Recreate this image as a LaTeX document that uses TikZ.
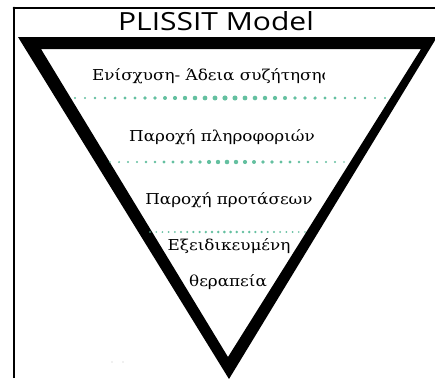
\documentclass[tikz,border=0pt]{standalone}
\usepackage{fontspec}
\setmainfont{DejaVu Serif}[FakeStretch=1.12]
\newfontfamily\titlefont{Open Sans}[FakeStretch=1.2]
\definecolor{mint}{RGB}{100,192,160}
\tikzset{
  grtext/.style={font=\fontsize{15}{17}\selectfont, inner sep=0pt, anchor=center},
  frameline/.style={line width=1.3pt, black},
}
\begin{document}
\begin{tikzpicture}[x=1pt,y=-1pt]
\useasboundingbox (0,0) rectangle (435,378);
\fill[white] (0,0) rectangle (435,378);
% frame
\draw[frameline] (14,378) -- (14,8) -- (435,8);
\fill (14,8) circle (1.3);
% title
\node[inner sep=0pt, font=\titlefont\fontsize{25}{27}\selectfont] (title) at (216,21) {PLISSIT Model};
% triangle (thick outline as outer minus inner)
\fill[black, even odd rule] (18,37) -- (437,37) -- (229,379) -- cycle
                            (41,49) -- (421,49) -- (228,357) -- cycle;
% dotted separators
\foreach \i in {0,...,31} {
  \pgfmathsetmacro{\xx}{75+10*\i}
  \pgfmathsetmacro{\rr}{1.1+1.5*max(0,1-abs(\xx-228)/155)}
  \fill[mint] (\xx,98) circle (\rr);
}
\foreach \i in {0,...,26} {
  \pgfmathsetmacro{\xx}{110+9*\i}
  \pgfmathsetmacro{\rr}{0.9+1.4*max(0,1-abs(\xx-228)/118)}
  \fill[mint] (\xx,162) circle (\rr);
}
\foreach \i in {0,...,25} {
  \pgfmathsetmacro{\xx}{150+6.2*\i}
  \pgfmathsetmacro{\rr}{0.8+0.7*max(0,1-abs(\xx-228)/78)}
  \fill[mint] (\xx,232) circle (\rr);
}
% texts
\begin{scope}
\clip (60,55) rectangle (324,95);
\node[grtext, anchor=west] (t1) at (92,76) {Ενίσχυση- Άδεια συζήτησης};
\end{scope}
\node[grtext] (t2) at (222,137) {Παροχή πληροφοριών};
\node[grtext] (t3) at (229,200) {Παροχή προτάσεων};
\node[grtext] (t4) at (229,246) {Εξειδικευμένη};
\node[grtext] (t5) at (228,282) {θεραπεία};
% faint dots
\fill[gray!50] (112,362) circle (0.7);
\fill[gray!50] (123,362) circle (0.7);
\end{tikzpicture}
\end{document}
